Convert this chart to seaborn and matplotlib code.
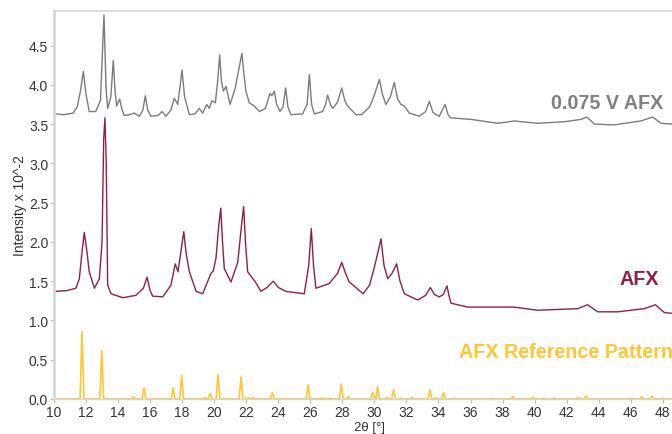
import matplotlib
matplotlib.use("Agg")
import matplotlib.pyplot as plt
import seaborn as sns
import pandas as pd

# 0.075 V AFX trace (2theta, intensity x 10^-2)
afx075_x = [10.12, 10.6, 11.2, 11.45, 11.65, 11.83, 12.0, 12.2, 12.6, 12.9, 13.12, 13.25, 13.35,
            13.55, 13.70, 13.82, 13.91, 14.1, 14.25, 14.39, 14.7, 15.01, 15.33, 15.55, 15.7,
            15.85, 16.05, 16.5, 16.74, 16.99, 17.3, 17.51, 17.72, 17.85, 17.99, 18.15, 18.45,
            18.8, 19.07, 19.28, 19.53, 19.69, 19.86, 20.07, 20.22, 20.34, 20.45, 20.57, 20.74,
            20.99, 21.3, 21.53, 21.73, 21.85, 21.98, 22.19, 22.5, 22.82, 23.2, 23.48, 23.6,
            23.75, 23.9, 24.11, 24.3, 24.46, 24.6, 24.79, 25.52, 25.8, 25.94, 26.08, 26.25,
            26.77, 26.95, 27.08, 27.25, 27.40, 27.7, 27.96, 28.15, 28.33, 28.85, 29.2, 29.7,
            30.0, 30.31, 30.5, 30.72, 31.0, 31.24, 31.45, 31.66, 31.87, 32.18, 32.8, 33.2,
            33.43, 33.65, 33.85, 34.05, 34.41, 34.6, 34.74, 36.03, 37.7, 38.73, 40.19, 41.85,
            42.9, 43.27, 43.73, 44.98, 46.64, 47.37, 47.89, 48.62, 49.4]
afx075_y = [3.63, 3.62, 3.64, 3.72, 3.92, 4.17, 3.88, 3.66, 3.66, 3.80, 4.89, 3.95, 3.70,
            3.85, 4.31, 3.90, 3.73, 3.82, 3.68, 3.61, 3.62, 3.64, 3.60, 3.68, 3.86,
            3.68, 3.60, 3.61, 3.66, 3.60, 3.68, 3.83, 3.75, 3.95, 4.19, 3.85, 3.62,
            3.63, 3.70, 3.64, 3.75, 3.70, 3.80, 3.77, 4.05, 4.38, 4.05, 3.92, 3.98,
            3.75, 3.95, 4.19, 4.40, 4.15, 3.92, 3.77, 3.73, 3.66, 3.70, 3.89, 3.86,
            3.92, 3.75, 3.66, 3.72, 3.96, 3.72, 3.62, 3.63, 3.75, 4.13, 3.75, 3.63,
            3.66, 3.75, 3.87, 3.75, 3.70, 3.78, 3.96, 3.80, 3.73, 3.62, 3.62, 3.72,
            3.87, 4.07, 3.88, 3.75, 3.85, 4.03, 3.82, 3.75, 3.73, 3.64, 3.60, 3.66,
            3.79, 3.65, 3.62, 3.60, 3.75, 3.62, 3.58, 3.56, 3.51, 3.54, 3.51, 3.53,
            3.56, 3.59, 3.50, 3.49, 3.54, 3.59, 3.51, 3.50, 3.50]

# AFX trace
afx_x = [10.12, 10.8, 11.37, 11.58, 11.75, 11.89, 12.06, 12.2, 12.52, 12.83, 13.0, 13.1, 13.18,
         13.26, 13.35, 13.56, 14.29, 15.12, 15.58, 15.81, 16.0, 16.16, 16.79, 17.3, 17.57,
         17.74, 17.9, 18.1, 18.25, 18.45, 18.87, 19.28, 19.8, 19.94, 20.11, 20.28, 20.41,
         20.52, 20.63, 21.05, 21.47, 21.7, 21.84, 21.95, 22.09, 22.57, 22.92, 23.3, 23.69,
         24.0, 24.48, 25.62, 25.9, 26.06, 26.2, 26.35, 27.18, 27.7, 27.96, 28.2, 28.43,
         29.3, 29.7, 30.0, 30.2, 30.41, 30.6, 30.83, 31.1, 31.39, 31.6, 31.87, 32.7,
         33.2, 33.49, 33.75, 34.05, 34.3, 34.53, 34.65, 34.78, 35.82, 38.73, 40.19, 42.69,
         43.31, 43.94, 45.19, 46.85, 47.54, 48.1, 48.64, 49.4]
afx_y = [1.37, 1.38, 1.41, 1.53, 1.87, 2.12, 1.87, 1.62, 1.41, 1.53, 2.00, 3.30, 3.58,
         3.00, 1.45, 1.34, 1.29, 1.32, 1.41, 1.55, 1.38, 1.31, 1.30, 1.45, 1.72,
         1.62, 1.85, 2.13, 1.85, 1.62, 1.37, 1.34, 1.60, 1.63, 1.79, 2.20, 2.43,
         2.00, 1.66, 1.49, 1.74, 2.20, 2.45, 2.00, 1.62, 1.49, 1.37, 1.42, 1.50,
         1.42, 1.37, 1.34, 1.70, 2.17, 1.70, 1.41, 1.47, 1.60, 1.74, 1.60, 1.49,
         1.34, 1.45, 1.68, 1.85, 2.04, 1.70, 1.53, 1.60, 1.72, 1.50, 1.34, 1.26,
         1.32, 1.42, 1.33, 1.30, 1.33, 1.44, 1.32, 1.22, 1.17, 1.17, 1.13, 1.15,
         1.20, 1.11, 1.11, 1.15, 1.20, 1.10, 1.09, 1.09]

# AFX reference pattern: peak positions and relative intensities
ref_pos = [11.75, 12.98, 14.95, 15.62, 17.43, 17.97, 19.43, 19.74, 20.24, 21.68, 22.13, 22.4,
           23.63, 25.86, 26.67, 26.94, 27.25, 27.93, 28.37, 29.89, 30.2, 30.78, 31.2, 31.66,
           32.35, 33.47, 33.85, 34.32, 34.99, 37.38, 38.63, 39.88, 40.61, 41.23, 42.73, 43.21,
           46.12, 46.68, 47.33, 47.99]
ref_int = [0.86, 0.62, 0.03, 0.14, 0.14, 0.30, 0.02, 0.07, 0.31, 0.28, 0.02, 0.02,
           0.08, 0.18, 0.01, 0.01, 0.01, 0.19, 0.03, 0.08, 0.16, 0.02, 0.12, 0.01,
           0.02, 0.12, 0.01, 0.08, 0.01, 0.01, 0.03, 0.02, 0.01, 0.01, 0.02, 0.04,
           0.01, 0.03, 0.04, 0.01]

yticks = [0.0, 0.5, 1.0, 1.5, 2.0, 2.5, 3.0, 3.5, 4.0, 4.5]
xticks = list(range(10, 50, 2))

GREY = "#7b7b7b"
CRIMSON = "#8e1f4a"
YELLOW = "#ffc533"
HALF_W = 0.12  # drawn half width of a reference peak


def ref_profile(pos, inten, x0, x1):
    xs, ys = [x0], [0.0]
    for p, h in zip(pos, inten):
        xs += [p - HALF_W, p, p + HALF_W]
        ys += [0.0, h, 0.0]
    xs.append(x1)
    ys.append(0.0)
    return pd.DataFrame({"two_theta": xs, "intensity": ys})


sns.set_theme(style="white")
plt.rcParams["font.family"] = ["Liberation Sans", "DejaVu Sans"]

fig = plt.figure(figsize=(6.72, 4.35), dpi=100)
ax = fig.add_axes([54 / 672, 35 / 435, 631 / 672, 388 / 435])

df075 = pd.DataFrame({"two_theta": afx075_x, "intensity": afx075_y})
dfafx = pd.DataFrame({"two_theta": afx_x, "intensity": afx_y})
dfref = ref_profile(ref_pos, ref_int, 10.0, 49.4)

sns.lineplot(data=dfref, x="two_theta", y="intensity", ax=ax, color=YELLOW,
             linewidth=1.2, sort=False, estimator=None)
sns.lineplot(data=dfafx, x="two_theta", y="intensity", ax=ax, color=CRIMSON,
             linewidth=1.0, sort=False, estimator=None)
sns.lineplot(data=df075, x="two_theta", y="intensity", ax=ax, color=GREY,
             linewidth=1.0, sort=False, estimator=None)

ax.set_xlim(10, 10 + 631 / 16.02)
ax.set_ylim(0, 4.94)
ax.set_xticks(xticks)
ax.set_yticks(yticks)
ax.set_yticklabels([f"{v:.1f}" for v in yticks])

ax.set_xlabel("2θ [°]", fontsize=9.5, color="#333333")
ax.xaxis.set_label_coords(0.5, -0.0722)
ax.xaxis.label.set_va("center")
ax.set_ylabel("Intensity x 10^-2", fontsize=10, color="#333333", labelpad=1)
ax.tick_params(axis="both", labelsize=10, colors="#333333", length=3, width=0.8,
               color="#bbbbbb", pad=1.2, direction="out", bottom=True, left=True)

for side in ["top", "left", "bottom"]:
    ax.spines[side].set_color("#d4d4d4")
ax.spines["left"].set_linewidth(1.8)
ax.spines["top"].set_linewidth(1.2)
ax.spines["bottom"].set_linewidth(1.0)
ax.spines["right"].set_visible(False)

ax.text(48.0, 3.77, "0.075 V AFX", color="#808080", fontsize=14.2, fontweight="bold",
        ha="right", va="center")
ax.text(47.75, 1.53, "AFX", color=CRIMSON, fontsize=14.2, fontweight="bold",
        ha="right", va="center")
ax.text(35.25, 0.61, "AFX Reference Pattern", color=YELLOW, fontsize=14.2, fontweight="bold",
        ha="left", va="center")

fig.savefig("out.png", dpi=100)
